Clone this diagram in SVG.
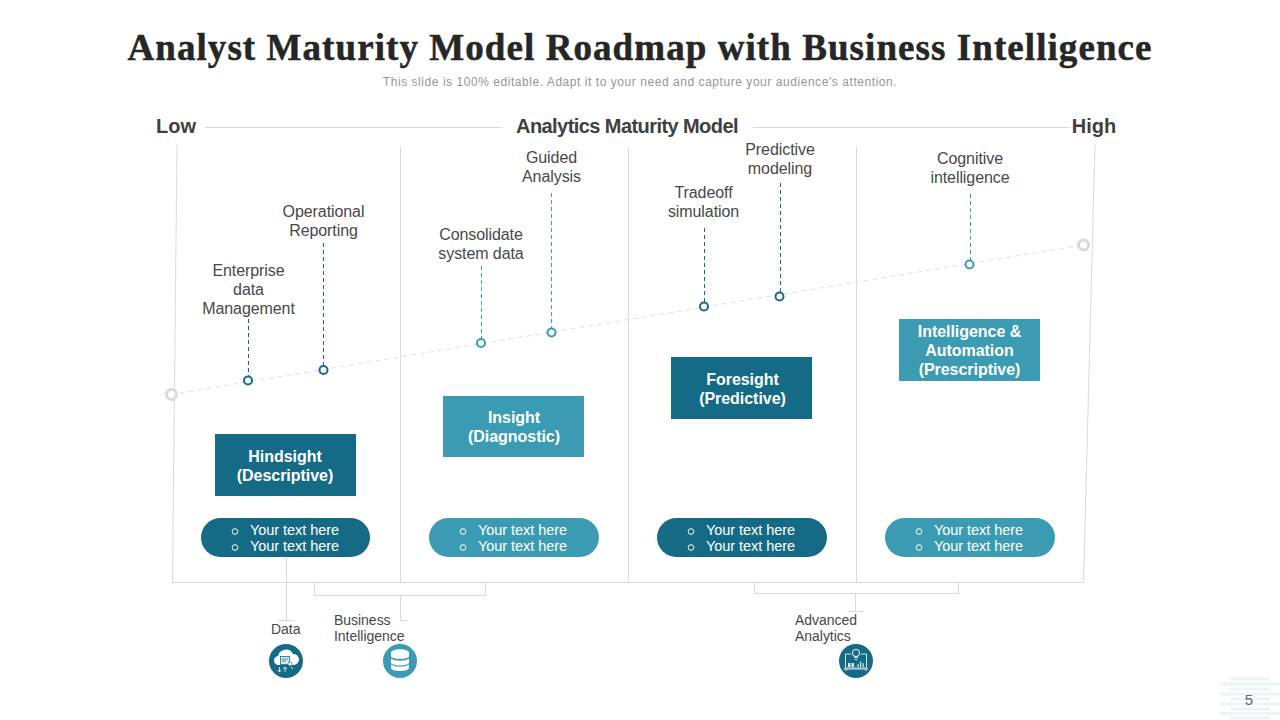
<svg xmlns="http://www.w3.org/2000/svg" width="1280" height="720" viewBox="0 0 1280 720">
<style>
text{font-family:"Liberation Sans",Arial,sans-serif;fill:#484848;text-anchor:middle}
.title{font-family:"Liberation Serif","Times New Roman",serif;font-weight:700;font-size:37px;fill:#262626;stroke:#262626;stroke-width:.5px;letter-spacing:1.07px}
.sub{font-size:12px;fill:#969696;letter-spacing:.55px}
.hd{font-size:20px;font-weight:700;fill:#404040}
.lb{font-size:16px;letter-spacing:-.08px}
.sm{font-size:14px;text-anchor:start;letter-spacing:-.03px}
.box{font-size:16px;font-weight:700;fill:#fff;letter-spacing:-.04px}
.pill{font-size:14.500px;fill:#fff;text-anchor:start;letter-spacing:-.06px}
.g{fill:none;stroke:#d9d9d9;stroke-width:1}
.tr{fill:none;stroke:#e0e0e0;stroke-width:1;stroke-dasharray:5 4}
.dk{fill:#156b86}.lt{fill:#3b9bb3}
.dd{fill:#fff;stroke:#156b86;stroke-width:2}
.dl{fill:#fff;stroke:#3b9bb3;stroke-width:2}
.sd{stroke:#156b86;stroke-width:1;stroke-dasharray:4 3;fill:none}
.sl{stroke:#3b9bb3;stroke-width:1;stroke-dasharray:4 3;fill:none}
.b{fill:none;stroke:#fff;stroke-width:1.200}
.t{fill:none;stroke:#fff;stroke-width:.8}
.dot{fill:none;stroke:#fff;stroke-width:1}
.st{stroke:#edf4f6;stroke-width:3}
</style>
<g id="footer-mark">
<path class="st" d="M1230 679H1270M1220 684H1280M1230 689H1270M1220 694H1280M1230 699H1270M1220 704H1280M1230 709H1270M1220 713.500H1280M1230 718H1270"/>
<text x="1249" y="705" style="font-size:15px;fill:#666">5</text>
</g>
<text class="title" x="640" y="60">Analyst Maturity Model Roadmap with Business Intelligence</text>
<text class="sub" x="640" y="86">This slide is 100% editable. Adapt it to your need and capture your audience’s attention.</text>
<g id="connectors">
<path class="g" d="M205 127.500H502M753 127.500H1070"/>
<path class="g" d="M177 144L172.500 582.500H1083.500L1095 144"/>
<path class="g" d="M400.500 147V582M628.500 147V582M856.500 147V582"/>
<path class="g" d="M286.500 557V620M278 620.500H294"/>
<path class="g" d="M314.500 583V595.500H485.500V583M400.500 596V620.500H408"/>
<path class="g" d="M754.500 583V593.500H958.500V583M855.500 594V611M848 611.500H864"/>
<path class="tr" d="M171 394.500L1083 245"/>
<path class="sd" d="M248.500 319V376M323.500 243V366M704.500 228V302M780.500 183V292"/>
<path class="sl" d="M481.500 266V339M551.500 193V328M970.500 194V260"/>
</g>
<g id="axis-ends">
<circle cx="171.500" cy="394.500" r="5" fill="#fff" stroke="#d9d9d9" stroke-width="3"/>
<circle cx="1083.500" cy="245" r="5" fill="#fff" stroke="#d9d9d9" stroke-width="3"/>
</g>
<g id="heading"><text class="hd" x="176" y="133">Low</text><text class="hd" x="627" y="133" style="letter-spacing:-.57px">Analytics Maturity Model</text><text class="hd" x="1094" y="133">High</text></g>
<g id="p1"><circle class="dd" cx="248" cy="380.500" r="4"/><text class="lb" x="248.500" y="276">Enterprise</text><text class="lb" x="248.500" y="295">data</text><text class="lb" x="248.500" y="314">Management</text></g>
<g id="p2"><circle class="dd" cx="323.500" cy="370" r="4"/><text class="lb" x="323.500" y="217">Operational</text><text class="lb" x="323.500" y="236">Reporting</text></g>
<g id="p3"><circle class="dl" cx="481" cy="343" r="4"/><text class="lb" x="481" y="240">Consolidate</text><text class="lb" x="481" y="259">system data</text></g>
<g id="p4"><circle class="dl" cx="551.500" cy="332.500" r="4"/><text class="lb" x="551.500" y="163">Guided</text><text class="lb" x="551.500" y="182">Analysis</text></g>
<g id="p5"><circle class="dd" cx="704" cy="306.500" r="4"/><text class="lb" x="703.500" y="198">Tradeoff</text><text class="lb" x="703.500" y="217">simulation</text></g>
<g id="p6"><circle class="dd" cx="779.500" cy="296.500" r="4"/><text class="lb" x="780" y="155">Predictive</text><text class="lb" x="780" y="174">modeling</text></g>
<g id="p7"><circle class="dl" cx="969.500" cy="264.500" r="4"/><text class="lb" x="970" y="164">Cognitive</text><text class="lb" x="970" y="183">intelligence</text></g>
<g id="hindsight"><rect class="dk" x="215" y="434" width="141" height="62"/><text class="box" x="285" y="462">Hindsight</text><text class="box" x="285" y="481">(Descriptive)</text></g>
<g id="insight"><rect class="lt" x="443" y="396" width="141" height="61"/><text class="box" x="514" y="423">Insight</text><text class="box" x="514" y="442">(Diagnostic)</text></g>
<g id="foresight"><rect class="dk" x="671" y="357" width="141" height="62"/><text class="box" x="742.500" y="385">Foresight</text><text class="box" x="742.500" y="404">(Predictive)</text></g>
<g id="intelligence"><rect class="lt" x="899" y="319" width="141" height="62"/><text class="box" x="969.500" y="337">Intelligence &amp;</text><text class="box" x="969.500" y="356">Automation</text><text class="box" x="969.500" y="375">(Prescriptive)</text></g>
<g id="pill1"><rect class="dk" x="201" y="518" width="169" height="39" rx="19.500"/><circle class="dot" cx="235" cy="531.500" r="2.800"/><circle class="dot" cx="235" cy="547.500" r="2.800"/><text class="pill" x="250" y="535">Your text here</text><text class="pill" x="250" y="551">Your text here</text></g>
<g id="pill2"><rect class="lt" x="429" y="518" width="170" height="39" rx="19.500"/><circle class="dot" cx="463" cy="531.500" r="2.800"/><circle class="dot" cx="463" cy="547.500" r="2.800"/><text class="pill" x="478" y="535">Your text here</text><text class="pill" x="478" y="551">Your text here</text></g>
<g id="pill3"><rect class="dk" x="657" y="518" width="170" height="39" rx="19.500"/><circle class="dot" cx="691" cy="531.500" r="2.800"/><circle class="dot" cx="691" cy="547.500" r="2.800"/><text class="pill" x="706" y="535">Your text here</text><text class="pill" x="706" y="551">Your text here</text></g>
<g id="pill4"><rect class="lt" x="885" y="518" width="170" height="39" rx="19.500"/><circle class="dot" cx="919" cy="531.500" r="2.800"/><circle class="dot" cx="919" cy="547.500" r="2.800"/><text class="pill" x="934" y="535">Your text here</text><text class="pill" x="934" y="551">Your text here</text></g>
<g id="data"><text class="sm" x="271" y="634">Data</text><circle class="dk" cx="286" cy="661" r="17"/><path fill="#fff" d="M279 665a4.500 4.500 0 0 1-1-9a8 8 0 0 1 15-2a5.500 5.500 0 0 1 1 11Z"/><rect x="280.500" y="656.500" width="9" height="8" fill="#d8e8ee" stroke="#156b86" stroke-width=".8"/><path fill="none" stroke="#156b86" stroke-width=".7" d="M282 659H288M282 661H286"/><circle cx="290" cy="664" r="2" fill="#fff" stroke="#156b86" stroke-width=".7"/><path class="t" d="M279.500 667V672M277.500 670L279.500 672L281.500 670M285 667V672M283 669L285 667L287 669M291 667L293 669"/></g>
<g id="bi"><text class="sm" x="334" y="625">Business</text><text class="sm" x="334" y="641">Intelligence</text><circle class="lt" cx="400" cy="661" r="17"/><path fill="#fff" d="M391 653c0-5 18-5 18 0v3c0 4-18 4-18 0Z"/><path fill="#fff" d="M391 658.500c4 3 14 3 18 0v4c0 4-18 4-18 0Z"/><path fill="#fff" d="M391 664.500c4 3 14 3 18 0v3.500c0 4-18 4-18 0Z"/></g>
<g id="aa"><text class="sm" x="795" y="625">Advanced</text><text class="sm" x="795" y="641">Analytics</text><circle class="dk" cx="856" cy="661" r="17"/><path class="t" d="M851 654H845.500V668H866.500V654H861M843.500 669H868.500M847 669L845.500 671M865 669L866.500 671"/><circle cx="856" cy="653" r="3.600" fill="#156b86" stroke="#fff" stroke-width="1"/><path class="t" d="M854 657.500H858M854.500 659.500H857.500"/><path fill="#d8e8ee" d="M848 663h2.500v4H848ZM851.500 663h2.500v4h-2.500ZM857.500 664h1.200v3h-1.200ZM860 661.500h1.200v5.500H860ZM862.500 663h1.200v4h-1.200Z"/></g>
</svg>
